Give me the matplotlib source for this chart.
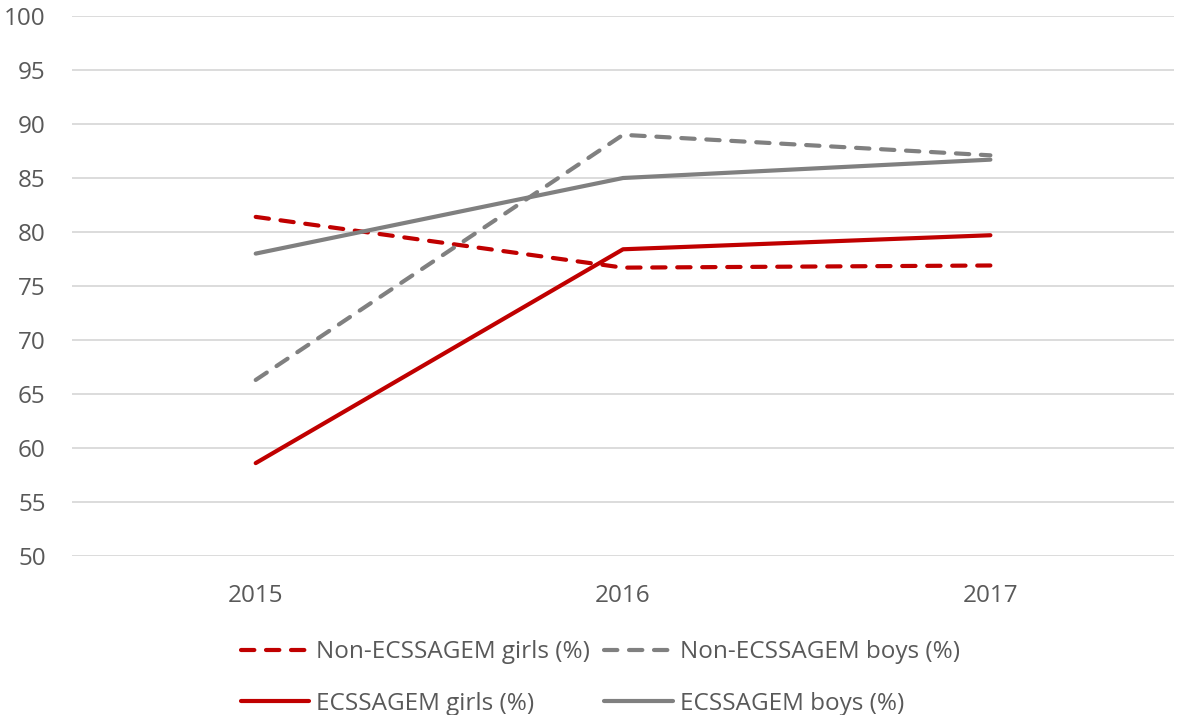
import matplotlib
matplotlib.use("Agg")
import matplotlib.pyplot as plt

years = ["2015", "2016", "2017"]
non_girls = [81.4, 76.7, 76.9]
non_boys = [66.3, 89.0, 87.1]
girls = [58.6, 78.4, 79.7]
boys = [78.0, 85.0, 86.7]
yticks = [50, 55, 60, 65, 70, 75, 80, 85, 90, 95, 100]

RED = "#c00000"
GRAY = "#808080"
TXT = "#595959"

plt.rcParams['font.family'] = ['Open Sans', 'DejaVu Sans']

fig = plt.figure(figsize=(11.77, 7.15), dpi=100)
ax = fig.add_axes([0.0612, 0.2224, 0.9363, 0.7552])

x = list(range(len(years)))
lw = 3.0
DASH = (3.2, 2.8)
l1, = ax.plot(x, non_girls, color=RED, lw=lw, dashes=DASH, dash_capstyle='round',
              solid_capstyle='round', label="Non-ECSSAGEM girls (%)", zorder=3)
l2, = ax.plot(x, non_boys, color=GRAY, lw=lw, dashes=DASH, dash_capstyle='round',
              solid_capstyle='round', label="Non-ECSSAGEM boys (%)", zorder=3)
l3, = ax.plot(x, girls, color=RED, lw=lw, solid_capstyle='round', solid_joinstyle='round',
              label="ECSSAGEM girls (%)", zorder=3)
l4, = ax.plot(x, boys, color=GRAY, lw=lw, solid_capstyle='round', solid_joinstyle='round',
              label="ECSSAGEM boys (%)", zorder=3)

ax.set_xlim(-0.5, 2.5)
ax.set_ylim(50, 100)
ax.set_yticks(yticks)
ax.set_xticks(x)
ax.set_xticklabels(years)
ax.grid(axis='y', color='#d9d9d9', lw=1.3)
ax.set_axisbelow(True)
for s in ax.spines.values():
    s.set_visible(False)
ax.tick_params(axis='both', length=0, labelsize=17.5, colors=TXT)
ax.tick_params(axis='y', pad=19)
ax.tick_params(axis='x', pad=20)

leg = fig.legend(handles=[l1, l3, l2, l4], ncol=2, loc='center',
                 bbox_to_anchor=(0.51, 0.0517), frameon=False, fontsize=17.5,
                 handlelength=2.8, handletextpad=0.3, columnspacing=0.6,
                 labelspacing=1.14, labelcolor=TXT, borderpad=0)

fig.savefig("out.png", dpi=100)
